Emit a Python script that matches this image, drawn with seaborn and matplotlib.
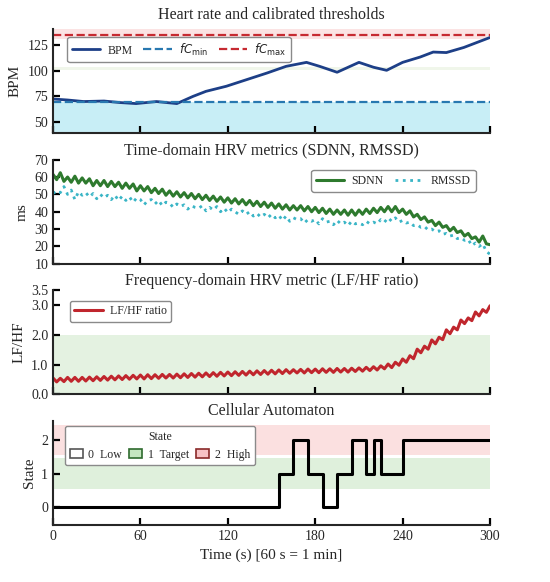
import numpy as np
import pandas as pd
import matplotlib
matplotlib.use("Agg")
import matplotlib.pyplot as plt
import seaborn as sns
from matplotlib.patches import Patch

# --- Data ---
bpm_t = [0, 10, 21, 35, 46, 57, 71, 85, 96, 105, 119, 133, 147, 160, 174, 183,
         195, 210, 220, 229, 240, 252, 261, 270, 282, 300]
bpm = [72.5, 71.5, 70, 70.5, 69, 68, 70, 68, 75, 80, 85, 91.5, 98, 104.5, 108.4,
       104.5, 98.7, 108.4, 103.6, 100.6, 108.4, 113.6, 118.5, 118, 123, 132.8]
fc_min = 70
fc_max = 135

# HRV series sampled every 2.5 s
hrv_t = np.arange(0, 300.1, 2.5)
sdnn = [61.5, 58.5, 62.5, 57.5, 60, 57, 60.5, 56.5, 59.5, 56.5, 59, 55,
        58, 55, 58, 54.5, 57.5, 54.5, 57, 53.5, 56.5, 53.5, 56, 52,
        55, 52, 54.5, 51, 53.5, 50.5, 53, 49.5, 52, 49, 51.5, 48.5,
        51, 48, 50.5, 47.5, 50, 47, 49.5, 46.5, 49, 46, 48.5, 45.5,
        48, 45, 47.5, 44.5, 47, 44, 46.5, 43.5, 46, 43, 45.5, 42.5,
        45, 42, 44.5, 41.5, 44, 41, 43.5, 41, 43.5, 40.5, 43, 40,
        42.5, 39.5, 42, 39, 41.5, 38.5, 41, 38.5, 41, 38, 41, 38,
        41, 38.5, 41.5, 39, 42, 39.5, 42.5, 40, 43, 40, 43, 39.5,
        41.5, 38.5, 40.5, 37, 38.5, 35.5, 37, 34, 35, 32, 34, 31,
        32, 29, 31, 28, 29, 26, 27.5, 24.5, 25.5, 22.5, 26, 21.5, 21]
rmssd = [50.5, 52, 51, 54.5, 50, 52.5, 47, 51.5, 49.5, 51, 48.5, 50.5,
         47.5, 50, 48, 49.5, 47, 49.5, 46.5, 49, 46.5, 48.5, 45.5, 48,
         47, 44, 46.5, 47, 44.5, 46.5, 43.5, 45.5, 45, 42.5, 44.5, 43,
         44, 41.5, 43.5, 42.5, 42, 43.5, 40.5, 42.5, 41, 43, 40, 42,
         39.5, 41.5, 40, 38.5, 40.5, 38.5, 40, 37.5, 39, 37, 38.5, 36.5,
         38.5, 36.5, 38, 35, 37.5, 34.5, 36.5, 35.5, 36, 33.5, 35.5, 34.5,
         35.5, 33, 36, 34, 34.5, 32.5, 35, 33, 34, 32, 34.5, 33,
         33.5, 32.5, 34.5, 33, 34, 33, 35.5, 34, 36.5, 34.5, 36.5, 34,
         35, 33.5, 34, 32, 32.5, 31, 31.5, 29.5, 30, 28.5, 29, 27,
         27.5, 26, 26.5, 24.5, 25, 23.5, 24, 20.5, 22, 20, 21.5, 17, 15.5]
lfhf = [0.55, 0.42, 0.54, 0.43, 0.57, 0.44, 0.57, 0.44, 0.57, 0.45, 0.58, 0.46,
        0.59, 0.47, 0.6, 0.48, 0.61, 0.49, 0.62, 0.5, 0.63, 0.51, 0.64, 0.52,
        0.65, 0.52, 0.66, 0.53, 0.66, 0.54, 0.67, 0.55, 0.67, 0.55, 0.68, 0.56,
        0.69, 0.57, 0.7, 0.58, 0.71, 0.59, 0.72, 0.6, 0.73, 0.61, 0.74, 0.62,
        0.75, 0.63, 0.76, 0.64, 0.77, 0.65, 0.78, 0.66, 0.79, 0.67, 0.8, 0.68,
        0.81, 0.69, 0.82, 0.7, 0.83, 0.71, 0.83, 0.72, 0.84, 0.72, 0.85, 0.73,
        0.85, 0.73, 0.86, 0.74, 0.86, 0.74, 0.87, 0.75, 0.87, 0.75, 0.88, 0.77,
        0.89, 0.78, 0.91, 0.8, 0.93, 0.82, 0.96, 0.86, 1.02, 0.9, 1.08, 0.98,
        1.19, 1.08, 1.3, 1.2, 1.52, 1.4, 1.62, 1.52, 1.83, 1.7, 1.92, 1.84,
        2.17, 2.04, 2.26, 2.17, 2.5, 2.38, 2.57, 2.48, 2.77, 2.64, 2.85, 2.76, 2.98]

state_t = [0, 155, 165, 175, 185, 195, 205, 215, 220, 225, 240, 300]
state = [0, 1, 2, 1, 0, 1, 2, 1, 2, 1, 2, 2]
state_labels = ["0  Low", "1  Target", "2  High"]

x_ticks = [0, 60, 120, 180, 240, 300]

# --- Style ---
sns.set_style("ticks")
plt.rcParams['font.family'] = ['Liberation Serif', 'DejaVu Serif']
plt.rcParams['mathtext.fontset'] = 'dejavusans'
plt.rcParams['axes.linewidth'] = 1.5
plt.rcParams['xtick.labelsize'] = 10
plt.rcParams['ytick.labelsize'] = 10

c_bpm = '#1d3f87'
c_min = '#2878b0'
c_max = '#c62a31'
c_sdnn = '#2e7a2e'
c_rmssd = '#3ab5c6'
c_lfhf = '#c0262d'

leg_kw = dict(fontsize=8.5, frameon=True, framealpha=1, edgecolor='#8a8a8a',
              borderaxespad=0, borderpad=0.4)

fig, axes = plt.subplots(4, 1, figsize=(5.5, 5.82), dpi=100, sharex=True)
fig.subplots_adjust(left=0.0964, right=0.891, top=0.950, bottom=0.098, hspace=0.255)
ax1, ax2, ax3, ax4 = axes

# Panel 1: heart rate
ax1.axhspan(39, fc_min, color='#c8eef6', lw=0, zorder=0)
ax1.axhspan(131.5, 141, color='#fbe3e3', lw=0, zorder=0)
ax1.axhspan(100.5, 104, color='#f0f6ea', lw=0, zorder=0)
sns.lineplot(x=bpm_t, y=bpm, ax=ax1, color=c_bpm, lw=2, label='BPM')
ax1.axhline(fc_min, color=c_min, ls='--', lw=1.6, label=r'$fC_{\rm min}$')
ax1.axhline(fc_max, color=c_max, ls='--', lw=1.6, label=r'$fC_{\rm max}$')
ax1.set_ylim(39, 141)
ax1.set_yticks([50, 75, 100, 125])
ax1.set_ylabel('BPM', fontsize=11)
ax1.set_title('Heart rate and calibrated thresholds', fontsize=11.5, pad=7)
ax1.legend(loc='upper left', bbox_to_anchor=(0.033, 0.925), ncol=3,
           handlelength=2.4, columnspacing=0.9, handletextpad=0.6, **leg_kw)

# Panel 2: time-domain HRV
sns.lineplot(x=hrv_t, y=sdnn, ax=ax2, color=c_sdnn, lw=2.2, label='SDNN')
sns.lineplot(x=hrv_t, y=rmssd, ax=ax2, color=c_rmssd, lw=2, ls=':', label='RMSSD')
ax2.set_ylim(10, 70)
ax2.set_yticks(range(10, 71, 10))
ax2.set_ylabel('ms', fontsize=11)
ax2.set_title('Time-domain HRV metrics (SDNN, RMSSD)', fontsize=11.5, pad=4)
ax2.legend(loc='upper right', bbox_to_anchor=(0.967, 0.9), ncol=2,
           handlelength=2.4, columnspacing=1.0, handletextpad=0.6, **leg_kw)

# Panel 3: LF/HF ratio
ax3.axhspan(0, 2.0, color='#e4f2e1', lw=0, zorder=0)
sns.lineplot(x=hrv_t, y=lfhf, ax=ax3, color=c_lfhf, lw=2.2, label='LF/HF ratio')
ax3.set_ylim(0, 3.5)
ax3.set_yticks([0, 1, 2, 3, 3.5])
ax3.set_yticklabels(['0.0', '1.0', '2.0', '3.0', '3.5'])
ax3.set_ylabel('LF/HF', fontsize=11)
ax3.set_title('Frequency-domain HRV metric (LF/HF ratio)', fontsize=11.5, pad=4)
ax3.legend(loc='upper left', bbox_to_anchor=(0.038, 0.9), handlelength=2.4,
           handletextpad=0.6, **leg_kw)

# Panel 4: cellular automaton
ax4.axhspan(0.55, 1.45, color='#dff0dc', lw=0, zorder=0)
ax4.axhspan(1.55, 2.45, color='#fbe0e0', lw=0, zorder=0)
sns.lineplot(x=state_t, y=state, ax=ax4, color='black', lw=2.2, drawstyle='steps-post')
ax4.set_ylim(-0.53, 2.57)
ax4.set_yticks([0, 1, 2])
ax4.set_ylabel('State', fontsize=11)
ax4.set_title('Cellular Automaton', fontsize=11.5, pad=4)
handles = [Patch(facecolor='white', edgecolor='#555555', lw=1.2),
           Patch(facecolor='#c4e6c0', edgecolor='#2e6b2e', lw=1.2),
           Patch(facecolor='#f7c2c5', edgecolor='#8a2a2a', lw=1.2)]
ax4.legend(handles, state_labels, title='State', loc='upper left',
           bbox_to_anchor=(0.027, 0.95), ncol=3, title_fontsize=8.5,
           handlelength=1.1, handletextpad=0.5, columnspacing=0.6, **leg_kw)

for ax in axes:
    sns.despine(ax=ax)
    ax.set_xlim(0, 300)
    ax.set_xticks(x_ticks)
    ax.set_xlabel('')
    ax.tick_params(axis='both', which='major', direction='in', length=5,
                   width=1.6, bottom=True, left=True, color='black')
ax4.set_xlabel('Time (s) [60 s = 1 min]', fontsize=11)

fig.savefig('out.png', dpi=100)
